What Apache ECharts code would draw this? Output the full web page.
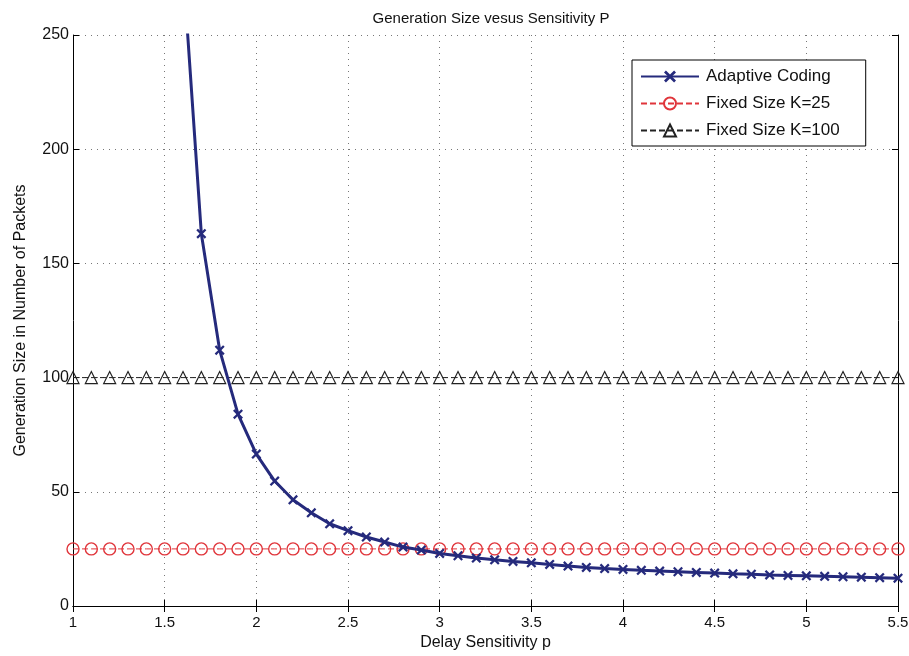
<!DOCTYPE html>
<html>
<head>
<meta charset="utf-8">
<script src="https://cdn.jsdelivr.net/npm/echarts@6/dist/echarts.min.js"></script>
<style>
  html, body { margin: 0; padding: 0; background: #fff; }
  #chart { width: 909px; height: 656px; }
</style>
</head>
<body>
<div id="chart"></div>
<script>
// delay sensitivity p (x positions of the markers)
var pFixed = [1.0, 1.1, 1.2, 1.3, 1.4, 1.5, 1.6, 1.7, 1.8, 1.9,
              2.0, 2.1, 2.2, 2.3, 2.4, 2.5, 2.6, 2.7, 2.8, 2.9,
              3.0, 3.1, 3.2, 3.3, 3.4, 3.5, 3.6, 3.7, 3.8, 3.9,
              4.0, 4.1, 4.2, 4.3, 4.4, 4.5, 4.6, 4.7, 4.8, 4.9,
              5.0, 5.1, 5.2, 5.3, 5.4, 5.5];
var pAdaptive = [1.6, 1.7, 1.8, 1.9,
                 2.0, 2.1, 2.2, 2.3, 2.4, 2.5, 2.6, 2.7, 2.8, 2.9,
                 3.0, 3.1, 3.2, 3.3, 3.4, 3.5, 3.6, 3.7, 3.8, 3.9,
                 4.0, 4.1, 4.2, 4.3, 4.4, 4.5, 4.6, 4.7, 4.8, 4.9,
                 5.0, 5.1, 5.2, 5.3, 5.4, 5.5];
// generation size
var kAdaptive = [280, 163, 112, 84,
                 66.5, 54.7, 46.5, 40.8, 36, 33, 30.2, 28, 25.8, 24.5,
                 23.0, 22.0, 21.0, 20.2, 19.5, 18.9, 18.2, 17.5, 16.9, 16.4,
                 16.0, 15.6, 15.3, 15.0, 14.7, 14.4, 14.1, 13.9, 13.6, 13.4,
                 13.2, 13.0, 12.8, 12.6, 12.4, 12.2];
var k25 = 25;
var k100 = 100;

var seriesNames = ['Adaptive Coding', 'Fixed Size K=25', 'Fixed Size K=100'];
var xTicks = { min: 1, max: 5.5, step: 0.5 };
var yTicks = { min: 0, max: 250, step: 50 };

function pairs(xs, ys) {
  var out = [];
  for (var i = 0; i < xs.length; i++) {
    out.push([xs[i], Array.isArray(ys) ? ys[i] : ys]);
  }
  return out;
}

var font = 'Liberation Sans, Arial, Helvetica, sans-serif';
// bold "x" marker like matlab's
var xMark = 'path://M0,1.6 L1.6,0 L5,3.4 L8.4,0 L10,1.6 L6.6,5 L10,8.4 L8.4,10 L5,6.6 L1.6,10 L0,8.4 L3.4,5 Z';

function axisCommon(show) {
  return {
    axisLine: { show: true, lineStyle: { color: '#000', width: 1 } },
    axisTick: { show: true, inside: true, length: 6, lineStyle: { color: '#000' } },
    axisLabel: { show: show, color: '#111', fontSize: 15, fontFamily: font },
    splitLine: { show: false }
  };
}

var chart = echarts.init(document.getElementById('chart'));
var xMain = axisCommon(true);
xMain.type = 'value'; xMain.position = 'bottom';
xMain.min = xTicks.min; xMain.max = xTicks.max; xMain.interval = xTicks.step;
xMain.name = 'Delay Sensitivity p';
xMain.nameLocation = 'middle';
xMain.nameGap = 29;
xMain.nameTextStyle = { color: '#111', fontSize: 16, fontFamily: font };
xMain.axisLabel.margin = 9;
xMain.splitLine = { show: true, lineStyle: { color: '#777', type: [1, 5], width: 1 } };

var xTop = axisCommon(false);
xTop.type = 'value'; xTop.position = 'top';
xTop.min = xTicks.min; xTop.max = xTicks.max; xTop.interval = xTicks.step;

var yMain = axisCommon(true);
yMain.type = 'value'; yMain.position = 'left';
yMain.min = yTicks.min; yMain.max = yTicks.max; yMain.interval = yTicks.step;
yMain.name = 'Generation Size in Number of Packets';
yMain.nameLocation = 'middle';
yMain.nameGap = 44;
yMain.nameTextStyle = { color: '#111', fontSize: 16, fontFamily: font };
yMain.axisLabel.margin = 4;
yMain.axisLabel.fontSize = 16;
yMain.splitLine = { show: true, lineStyle: { color: '#777', type: [1, 5], width: 1 } };

var yRight = axisCommon(false);
yRight.type = 'value'; yRight.position = 'right';
yRight.min = yTicks.min; yRight.max = yTicks.max; yRight.interval = yTicks.step;

chart.setOption({
  backgroundColor: '#fff',
  animation: false,
  title: {
    text: 'Generation Size vesus Sensitivity P',
    left: 486, top: 6, textAlign: 'center',
    textStyle: { color: '#111', fontSize: 15, fontWeight: 'normal', fontFamily: font }
  },
  grid: { left: 73, right: 11, top: 35, bottom: 50, outerBoundsMode: 'none', containLabel: false },
  legend: {
    orient: 'vertical',
    left: 632, top: 60,
    padding: [8, 26, 7, 8],
    itemGap: 10,
    itemWidth: 58,
    itemHeight: 15,
    backgroundColor: '#fff',
    borderColor: '#000',
    borderWidth: 1,
    borderRadius: 0,
    textStyle: { color: '#111', fontSize: 17, fontFamily: font, padding: [0, 0, 0, 2] },
    data: seriesNames
  },
  xAxis: [xMain, xTop],
  yAxis: [yMain, yRight],
  series: [
    {
      name: seriesNames[2],
      type: 'line',
      data: pairs(pFixed, k100),
      symbol: 'triangle',
      symbolSize: 12,
      showAllSymbol: true,
      lineStyle: { color: '#222', width: 1, type: [6, 3] },
      itemStyle: { color: 'rgba(0,0,0,0)', borderColor: '#222', borderWidth: 1.2 },
      z: 2
    },
    {
      name: seriesNames[1],
      type: 'line',
      data: pairs(pFixed, k25),
      symbol: 'circle',
      symbolSize: 12,
      showAllSymbol: true,
      lineStyle: { color: '#e0353b', width: 1, type: [6, 3] },
      itemStyle: { color: 'rgba(0,0,0,0)', borderColor: '#e0353b', borderWidth: 1.4 },
      z: 3
    },
    {
      name: seriesNames[0],
      type: 'line',
      data: pairs(pAdaptive, kAdaptive),
      symbol: xMark,
      symbolSize: 10,
      showAllSymbol: true,
      clip: true,
      lineStyle: { color: '#252a7c', width: 3 },
      itemStyle: { color: '#252a7c' },
      z: 4
    }
  ]
});
</script>
</body>
</html>
